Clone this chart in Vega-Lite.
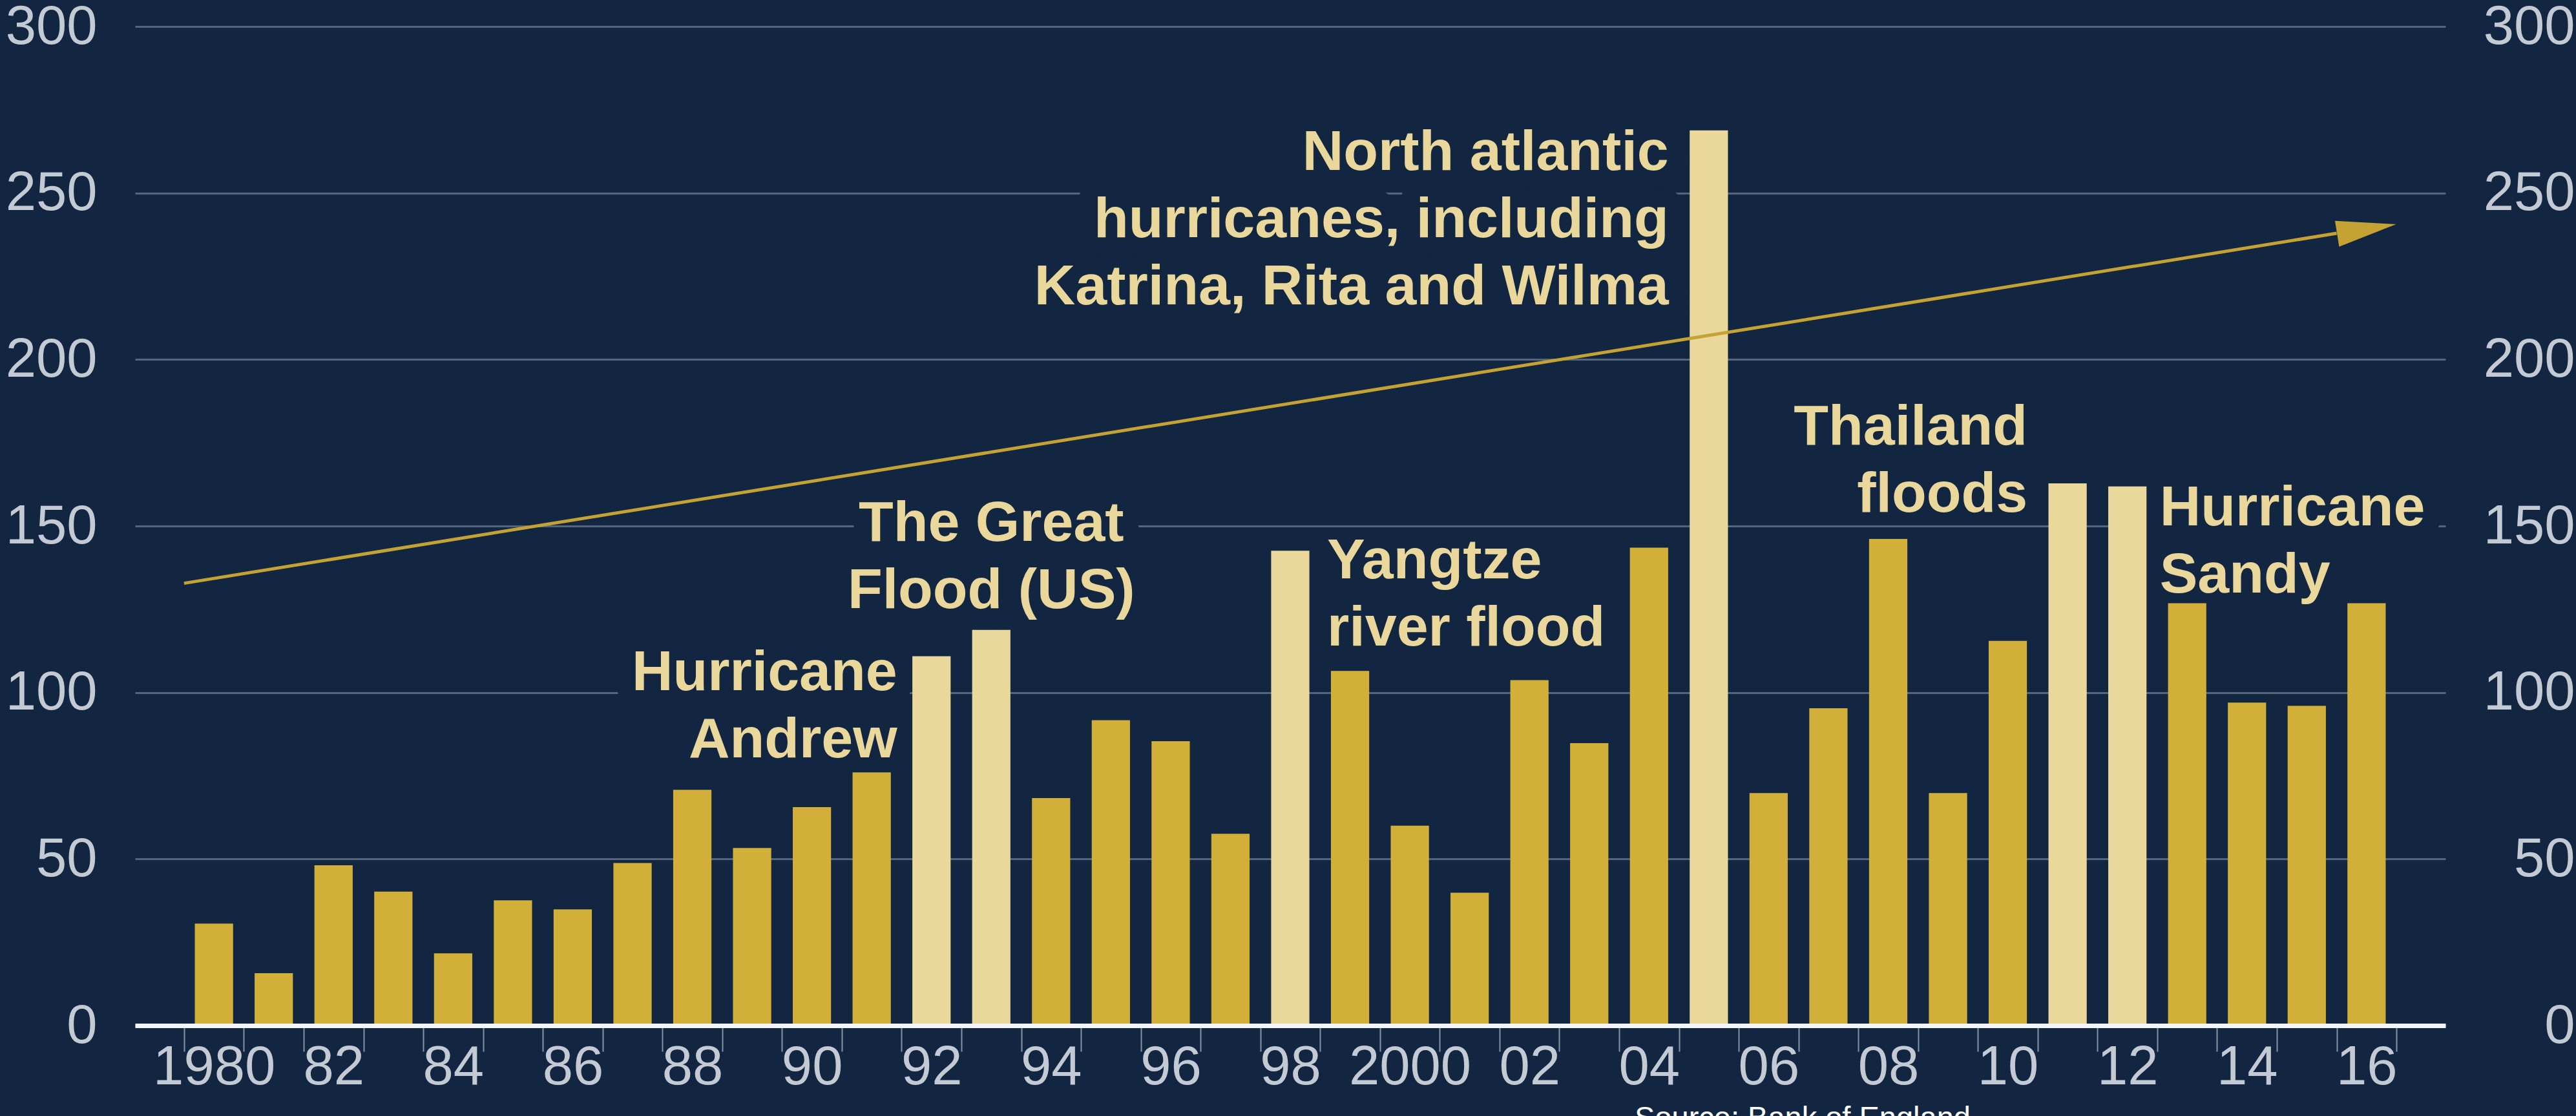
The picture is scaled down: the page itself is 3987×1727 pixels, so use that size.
{
  "$schema": "https://vega.github.io/schema/vega-lite/v6.json",
  "width": 3576,
  "height": 1546,
  "autosize": {"type": "none"},
  "padding": {"left": 209, "top": 41, "right": 202, "bottom": 140},
  "background": "#132641",
  "config": {"view": {"stroke": null}, "font": "Liberation Sans"},
  "title": {"text": "Source: Bank of England", "orient": "bottom", "anchor": "start", "frame": "group", "dx": 2321, "offset": 14, "fontSize": 47, "fontWeight": "normal", "color": "#FFFFFF", "font": "Liberation Sans"},
  "datasets": {
    "bars": [
      {"year": 1980, "value": 30.6},
      {"year": 1981, "value": 15.7},
      {"year": 1982, "value": 48.1},
      {"year": 1983, "value": 40.2},
      {"year": 1984, "value": 21.7},
      {"year": 1985, "value": 37.6},
      {"year": 1986, "value": 34.9},
      {"year": 1987, "value": 48.8},
      {"year": 1988, "value": 70.8},
      {"year": 1989, "value": 53.3},
      {"year": 1990, "value": 65.6},
      {"year": 1991, "value": 76.0},
      {"year": 1992, "value": 110.9, "note": "Hurricane\nAndrew"},
      {"year": 1993, "value": 118.8, "note": "The Great\nFlood (US)"},
      {"year": 1994, "value": 68.3},
      {"year": 1995, "value": 91.7},
      {"year": 1996, "value": 85.4},
      {"year": 1997, "value": 57.6},
      {"year": 1998, "value": 142.6, "note": "Yangtze\nriver flood"},
      {"year": 1999, "value": 106.5},
      {"year": 2000, "value": 60.0},
      {"year": 2001, "value": 39.9},
      {"year": 2002, "value": 103.7},
      {"year": 2003, "value": 84.8},
      {"year": 2004, "value": 143.5},
      {"year": 2005, "value": 268.8, "note": "North atlantic\nhurricanes, including\nKatrina, Rita and Wilma"},
      {"year": 2006, "value": 69.8},
      {"year": 2007, "value": 95.3},
      {"year": 2008, "value": 146.1},
      {"year": 2009, "value": 69.8},
      {"year": 2010, "value": 115.5},
      {"year": 2011, "value": 162.8, "note": "Thailand\nfloods"},
      {"year": 2012, "value": 161.9, "note": "Hurricane\nSandy"},
      {"year": 2013, "value": 126.8},
      {"year": 2014, "value": 97.0},
      {"year": 2015, "value": 96.0},
      {"year": 2016, "value": 126.8}
    ],
    "trend": [
      {"year": 1980, "value": 132.8},
      {"year": 2016, "value": 237.9}
    ],
    "head": [
      {"year": 2016, "value": 239.2}
    ]
  },
  "data": {"name": "bars"},
  "layer": [
    {
      "transform": [{"filter": "datum.year == 1992"}],
      "mark": {"type": "text", "align": "right", "baseline": "top", "dx": -53, "dy": -17, "lineBreak": "\n", "lineHeight": 104, "font": "Liberation Sans", "fontSize": 88, "fontWeight": "bold", "fill": "#132641", "stroke": "#132641", "strokeWidth": 56, "strokeJoin": "round"},
      "encoding": {"x": {"field": "year", "type": "ordinal"}, "y": {"field": "value", "type": "quantitative", "axis": null}, "text": {"field": "note"}}
    },
    {
      "transform": [{"filter": "datum.year == 1993"}],
      "mark": {"type": "text", "align": "center", "baseline": "top", "dx": 0, "dy": -208, "lineBreak": "\n", "lineHeight": 104, "font": "Liberation Sans", "fontSize": 88, "fontWeight": "bold", "fill": "#132641", "stroke": "#132641", "strokeWidth": 56, "strokeJoin": "round"},
      "encoding": {"x": {"field": "year", "type": "ordinal"}, "y": {"field": "value", "type": "quantitative", "axis": null}, "text": {"field": "note"}}
    },
    {
      "transform": [{"filter": "datum.year == 2005"}],
      "mark": {"type": "text", "align": "right", "baseline": "top", "dx": -62, "dy": -9, "lineBreak": "\n", "lineHeight": 104, "font": "Liberation Sans", "fontSize": 88, "fontWeight": "bold", "fill": "#132641", "stroke": "#132641", "strokeWidth": 56, "strokeJoin": "round"},
      "encoding": {"x": {"field": "year", "type": "ordinal"}, "y": {"field": "value", "type": "quantitative", "axis": null}, "text": {"field": "note"}}
    },
    {
      "transform": [{"filter": "datum.year == 2012"}],
      "mark": {"type": "text", "align": "left", "baseline": "top", "dx": 50, "dy": -10, "lineBreak": "\n", "lineHeight": 104, "font": "Liberation Sans", "fontSize": 88, "fontWeight": "bold", "fill": "#132641", "stroke": "#132641", "strokeWidth": 56, "strokeJoin": "round"},
      "encoding": {"x": {"field": "year", "type": "ordinal"}, "y": {"field": "value", "type": "quantitative", "axis": null}, "text": {"field": "note"}}
    },
    {
      "mark": {"type": "bar", "width": {"band": 0.64}},
      "encoding": {
        "x": {
          "field": "year", "type": "ordinal",
          "scale": {"type": "band", "paddingInner": 0, "paddingOuter": 0.82},
          "axis": {
            "title": null, "orient": "bottom", "tickBand": "extent", "grid": false, "zindex": 1,
            "domainColor": "#F2F4F7", "domainWidth": 7,
            "tickColor": "#8593A6", "tickWidth": 2, "tickSize": 40,
            "labelPadding": 24, "labelAlign": "center", "labelFont": "Liberation Sans", "labelFontSize": 85, "labelColor": "#C4CAD4", "labelAngle": 0, "labelOverlap": false, "labelLimit": 1000,
            "labelExpr": "datum.value % 2 == 0 ? (datum.value % 20 == 0 ? datum.label : substring(datum.label, 2)) : ''"
          }
        },
        "y": {
          "field": "value", "type": "quantitative",
          "scale": {"domain": [0, 300], "nice": false},
          "axis": {
            "title": null, "orient": "left", "values": [0, 50, 100, 150, 200, 250, 300],
            "domain": false, "ticks": false, "labelPadding": 59,
            "labelFont": "Liberation Sans", "labelFontSize": 85, "labelColor": "#C4CAD4",
            "grid": true, "gridColor": "#55657B", "gridWidth": 3
          }
        },
        "color": {"condition": {"test": "isValid(datum.note)", "value": "#E9D79B"}, "value": "#D2AF38"}
      }
    },
    {
      "data": {"name": "trend"},
      "mark": {"type": "line", "color": "#C4A233", "strokeWidth": 5, "strokeCap": "butt"},
      "encoding": {
        "x": {"field": "year", "type": "ordinal", "bandPosition": 0},
        "y": {
          "field": "value", "type": "quantitative",
          "axis": {
            "title": null, "orient": "right", "values": [0, 50, 100, 150, 200, 250, 300],
            "domain": false, "ticks": false, "grid": false, "labelAlign": "right", "labelPadding": 200,
            "labelFont": "Liberation Sans", "labelFontSize": 85, "labelColor": "#C4CAD4"
          }
        }
      }
    },
    {
      "data": {"name": "head"},
      "mark": {"type": "point", "shape": "M-1,-0.44L1,0L-1,0.44Z", "size": 8556, "angle": 350.78, "filled": true, "color": "#C4A233", "opacity": 1, "strokeWidth": 0},
      "encoding": {"x": {"field": "year", "type": "ordinal"}, "y": {"field": "value", "type": "quantitative", "axis": null}}
    },
    {
      "transform": [{"filter": "datum.year == 1992"}],
      "mark": {"type": "text", "align": "right", "baseline": "top", "dx": -53, "dy": -17, "lineBreak": "\n", "lineHeight": 104, "font": "Liberation Sans", "fontSize": 88, "fontWeight": "bold", "fill": "#E9D79B"},
      "encoding": {"x": {"field": "year", "type": "ordinal"}, "y": {"field": "value", "type": "quantitative", "axis": null}, "text": {"field": "note"}}
    },
    {
      "transform": [{"filter": "datum.year == 1993"}],
      "mark": {"type": "text", "align": "center", "baseline": "top", "dx": 0, "dy": -208, "lineBreak": "\n", "lineHeight": 104, "font": "Liberation Sans", "fontSize": 88, "fontWeight": "bold", "fill": "#E9D79B"},
      "encoding": {"x": {"field": "year", "type": "ordinal"}, "y": {"field": "value", "type": "quantitative", "axis": null}, "text": {"field": "note"}}
    },
    {
      "transform": [{"filter": "datum.year == 1998"}],
      "mark": {"type": "text", "align": "left", "baseline": "top", "dx": 57, "dy": -27, "lineBreak": "\n", "lineHeight": 104, "font": "Liberation Sans", "fontSize": 88, "fontWeight": "bold", "fill": "#E9D79B"},
      "encoding": {"x": {"field": "year", "type": "ordinal"}, "y": {"field": "value", "type": "quantitative", "axis": null}, "text": {"field": "note"}}
    },
    {
      "transform": [{"filter": "datum.year == 2005"}],
      "mark": {"type": "text", "align": "right", "baseline": "top", "dx": -62, "dy": -9, "lineBreak": "\n", "lineHeight": 104, "font": "Liberation Sans", "fontSize": 88, "fontWeight": "bold", "fill": "#E9D79B"},
      "encoding": {"x": {"field": "year", "type": "ordinal"}, "y": {"field": "value", "type": "quantitative", "axis": null}, "text": {"field": "note"}}
    },
    {
      "transform": [{"filter": "datum.year == 2011"}],
      "mark": {"type": "text", "align": "right", "baseline": "top", "dx": -62, "dy": -130, "lineBreak": "\n", "lineHeight": 104, "font": "Liberation Sans", "fontSize": 88, "fontWeight": "bold", "fill": "#E9D79B"},
      "encoding": {"x": {"field": "year", "type": "ordinal"}, "y": {"field": "value", "type": "quantitative", "axis": null}, "text": {"field": "note"}}
    },
    {
      "transform": [{"filter": "datum.year == 2012"}],
      "mark": {"type": "text", "align": "left", "baseline": "top", "dx": 50, "dy": -10, "lineBreak": "\n", "lineHeight": 104, "font": "Liberation Sans", "fontSize": 88, "fontWeight": "bold", "fill": "#E9D79B"},
      "encoding": {"x": {"field": "year", "type": "ordinal"}, "y": {"field": "value", "type": "quantitative", "axis": null}, "text": {"field": "note"}}
    }
  ],
  "resolve": {"axis": {"y": "independent"}}
}
